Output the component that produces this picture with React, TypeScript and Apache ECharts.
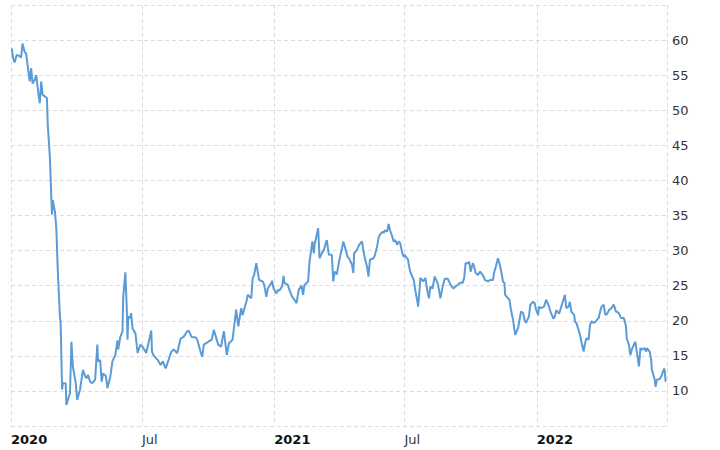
import React, { useEffect, useRef } from "react";
import * as echarts from "echarts";

const dates: string[] = [
  "2020-01-02","2020-01-04","2020-01-06","2020-01-09","2020-01-13","2020-01-15","2020-01-17","2020-01-20","2020-01-22","2020-01-25",
  "2020-01-27","2020-01-29","2020-01-31","2020-02-03","2020-02-05","2020-02-08","2020-02-10","2020-02-12","2020-02-14","2020-02-18",
  "2020-02-20","2020-02-21","2020-02-24","2020-02-26","2020-02-27","2020-02-28","2020-03-02","2020-03-04","2020-03-06","2020-03-09",
  "2020-03-10","2020-03-12","2020-03-13","2020-03-17","2020-03-18","2020-03-23","2020-03-25","2020-03-27","2020-03-31","2020-04-02",
  "2020-04-06","2020-04-10","2020-04-13","2020-04-15","2020-04-17","2020-04-20","2020-04-23","2020-04-27","2020-04-30","2020-05-01",
  "2020-05-04","2020-05-06","2020-05-08","2020-05-12","2020-05-14","2020-05-18","2020-05-21","2020-05-25","2020-05-28","2020-05-29",
  "2020-06-01","2020-06-04","2020-06-05","2020-06-08","2020-06-10","2020-06-11","2020-06-12","2020-06-15","2020-06-16","2020-06-18",
  "2020-06-22","2020-06-25","2020-06-29","2020-07-02","2020-07-07","2020-07-09","2020-07-14","2020-07-15","2020-07-17","2020-07-23",
  "2020-07-27","2020-07-30","2020-08-03","2020-08-07","2020-08-11","2020-08-14","2020-08-19","2020-08-24","2020-08-28","2020-09-02",
  "2020-09-04","2020-09-08","2020-09-14","2020-09-16","2020-09-21","2020-09-23","2020-09-25","2020-10-01","2020-10-06","2020-10-09",
  "2020-10-15","2020-10-19","2020-10-22","2020-10-23","2020-10-27","2020-10-30","2020-11-04","2020-11-09","2020-11-12","2020-11-16",
  "2020-11-18","2020-11-20","2020-11-24","2020-11-25","2020-11-30","2020-12-02","2020-12-04","2020-12-07","2020-12-09","2020-12-11",
  "2020-12-16","2020-12-18","2020-12-21","2020-12-23","2020-12-28","2020-12-29","2020-12-31","2021-01-04","2021-01-06","2021-01-08",
  "2021-01-12","2021-01-14","2021-01-15","2021-01-20","2021-01-22","2021-01-26","2021-01-29","2021-02-01","2021-02-04","2021-02-08",
  "2021-02-10","2021-02-12","2021-02-17","2021-02-19","2021-02-23","2021-02-25","2021-02-26","2021-03-03","2021-03-05","2021-03-08",
  "2021-03-11","2021-03-15","2021-03-18","2021-03-22","2021-03-24","2021-03-26","2021-03-29","2021-04-01","2021-04-05","2021-04-07",
  "2021-04-09","2021-04-13","2021-04-15","2021-04-19","2021-04-21","2021-04-22","2021-04-26","2021-04-29","2021-05-03","2021-05-05",
  "2021-05-07","2021-05-10","2021-05-12","2021-05-14","2021-05-19","2021-05-21","2021-05-24","2021-05-26","2021-05-28","2021-06-01",
  "2021-06-02","2021-06-04","2021-06-07","2021-06-09","2021-06-11","2021-06-14","2021-06-16","2021-06-18","2021-06-21","2021-06-23",
  "2021-06-25","2021-06-28","2021-06-30","2021-07-01","2021-07-06","2021-07-07","2021-07-09","2021-07-14","2021-07-16","2021-07-19",
  "2021-07-20","2021-07-22","2021-07-23","2021-07-27","2021-07-30","2021-08-02","2021-08-04","2021-08-06","2021-08-09","2021-08-12",
  "2021-08-16","2021-08-18","2021-08-20","2021-08-23","2021-08-26","2021-08-30","2021-09-01","2021-09-03","2021-09-07","2021-09-10",
  "2021-09-13","2021-09-16","2021-09-20","2021-09-22","2021-09-24","2021-09-27","2021-09-29","2021-10-01","2021-10-04","2021-10-06",
  "2021-10-08","2021-10-11","2021-10-14","2021-10-18","2021-10-21","2021-10-25","2021-10-28","2021-11-01","2021-11-03","2021-11-05",
  "2021-11-08","2021-11-10","2021-11-12","2021-11-15","2021-11-17","2021-11-18","2021-11-22","2021-11-24","2021-11-26","2021-11-29",
  "2021-12-02","2021-12-06","2021-12-08","2021-12-10","2021-12-13","2021-12-15","2021-12-17","2021-12-21","2021-12-23","2021-12-27",
  "2021-12-29","2021-12-31","2022-01-03","2022-01-04","2022-01-07","2022-01-11","2022-01-14","2022-01-18","2022-01-20","2022-01-24",
  "2022-01-26","2022-01-28","2022-02-01","2022-02-04","2022-02-09","2022-02-11","2022-02-14","2022-02-16","2022-02-18","2022-02-22",
  "2022-02-23","2022-02-25","2022-02-28","2022-03-02","2022-03-04","2022-03-07","2022-03-09","2022-03-11","2022-03-14","2022-03-16",
  "2022-03-18","2022-03-21","2022-03-24","2022-03-28","2022-03-30","2022-04-01","2022-04-04","2022-04-06","2022-04-08","2022-04-12",
  "2022-04-14","2022-04-18","2022-04-21","2022-04-22","2022-04-25","2022-04-28","2022-05-02","2022-05-05","2022-05-06","2022-05-09",
  "2022-05-11","2022-05-13","2022-05-16","2022-05-18","2022-05-20","2022-05-23","2022-05-25","2022-05-27","2022-05-31","2022-06-02",
  "2022-06-03","2022-06-07","2022-06-09","2022-06-10","2022-06-14","2022-06-15","2022-06-17","2022-06-21","2022-06-24","2022-06-27",
  "2022-06-28","2022-06-29"
];

const prices: number[] = [
  58.8,57.4,56.8,57.9,57.7,57.5,59.5,58.3,58.1,55.7,
  54.1,56.0,53.8,54.3,55.0,52.4,51.0,54.1,52.2,51.9,
  51.7,48.1,43.4,37.7,35.1,37.2,35.6,33.2,27.3,20.6,
  19.7,10.2,11.1,11.1,8.0,9.7,17.0,13.5,11.1,8.7,
  10.2,13.0,12.1,11.8,12.3,11.3,11.1,11.6,16.6,14.2,
  14.4,11.3,12.5,12.1,10.4,12.0,14.2,15.1,17.2,15.9,
  17.7,18.5,23.4,26.9,21.6,17.3,20.6,20.4,21.1,18.9,
  18.2,15.4,16.6,16.3,15.4,16.3,18.6,15.6,15.1,14.4,
  13.7,14.2,13.2,14.4,15.6,15.9,15.4,17.5,17.7,18.5,
  18.6,17.7,17.6,17.3,15.4,14.9,16.6,17.0,17.3,18.7,
  16.6,16.3,18.0,18.5,15.1,16.8,17.3,21.6,19.2,21.8,
  20.8,21.6,23.0,23.7,23.2,26.1,26.5,28.2,27.0,25.8,
  25.6,25.1,23.4,24.6,25.4,25.7,24.6,23.9,24.4,24.3,
  24.9,26.4,25.4,25.1,24.4,23.4,23.0,22.5,24.4,25.0,
  23.7,25.1,25.6,28.4,31.3,29.6,30.8,33.2,28.9,29.6,
  30.1,31.5,29.4,29.4,25.6,27.0,26.6,28.4,30.3,31.3,
  30.6,29.1,28.9,28.0,26.8,29.6,30.1,30.8,31.3,29.9,
  28.9,27.7,26.3,28.7,28.9,29.4,30.6,31.8,32.3,32.7,
  32.5,32.9,32.7,33.8,32.9,32.0,31.3,31.5,30.8,31.3,
  31.1,29.6,29.1,29.4,28.7,28.0,27.0,25.8,24.4,22.7,
  22.0,24.4,26.1,25.6,26.1,24.2,23.2,24.9,24.6,26.3,
  25.4,24.4,23.2,24.8,26.0,26.0,25.6,25.1,24.6,24.9,
  25.1,25.4,25.4,26.1,28.2,28.2,28.4,27.0,28.2,27.7,
  26.8,26.5,27.0,26.5,25.8,25.6,25.8,25.8,27.0,27.7,
  28.9,28.2,27.3,25.6,25.4,23.7,23.2,23.0,21.6,20.1,
  18.0,19.0,20.1,21.3,21.1,20.1,19.7,20.6,22.3,22.7,
  22.5,21.6,20.8,22.0,21.8,22.0,23.0,22.0,21.3,20.3,
  20.6,21.5,21.0,22.0,23.7,21.8,22.0,22.7,21.3,20.8,
  19.9,19.7,18.7,18.0,17.0,15.6,16.8,17.5,17.3,19.4,
  19.9,19.7,19.9,20.4,21.3,22.0,22.3,20.9,20.9,21.6,
  21.7,22.3,21.3,21.3,21.1,20.4,20.4,19.2,17.5,16.6,
  15.1,15.9,16.6,17.0,15.6,13.5,16.1,15.9,16.1,15.6,
  16.1,15.6,14.4,13.0,11.6,10.6,11.6,11.7,12.3,13.2,
  12.8,11.3
];

const xStart = "2020-01-01";
const xEnd = "2022-07-01";
const yMin = 5;
const yMax = 65;
const yStep = 5;

export default function App() {
  const ref = useRef<HTMLDivElement>(null);
  useEffect(() => {
    if (!ref.current) return;
    const chart = echarts.init(ref.current, undefined, { renderer: "svg" });
    const seriesData = dates.map((d, i) => [d, prices[i]]);
    const endTs = echarts.time.parse(xEnd).getTime();
    chart.setOption({
      animation: false,
      backgroundColor: "#ffffff",
      grid: { left: 11, right: 53, top: 5, bottom: 24, containLabel: false },
      xAxis: {
        type: "time",
        min: xStart,
        max: xEnd,
        splitNumber: 5,
        axisLine: { show: false },
        axisTick: { show: false },
        axisLabel: {
          show: true,
          align: "left",
          margin: 7,
          fontFamily: "DejaVu Sans",
          fontSize: 13,
          color: "#333",
          formatter: (val: number) => {
            if (val >= endTs) return "";
            const d = new Date(val);
            if (d.getMonth() === 0) return "{y|" + d.getFullYear() + "}";
            return "Jul";
          },
          rich: {
            y: { fontWeight: "bold", fontFamily: "DejaVu Sans", fontSize: 13, color: "#111" },
          },
        },
        splitLine: {
          show: true,
          lineStyle: { color: "#dcdcdc", type: [4, 3], width: 1 },
        },
      },
      yAxis: {
        type: "value",
        position: "right",
        min: yMin,
        max: yMax,
        interval: yStep,
        axisLine: { show: false },
        axisTick: { show: false },
        axisLabel: {
          margin: 5,
          fontFamily: "DejaVu Sans",
          fontSize: 13,
          color: "#333",
          showMinLabel: false,
          showMaxLabel: false,
        },
        splitLine: {
          show: true,
          lineStyle: { color: "#dcdcdc", type: [4, 3], width: 1 },
        },
      },
      series: [
        {
          type: "line",
          data: seriesData,
          showSymbol: false,
          symbol: "none",
          lineStyle: { color: "#5b9bd7", width: 2 },
          itemStyle: { color: "#5b9bd7" },
        },
      ],
    });
    return () => chart.dispose();
  }, []);
  return (
    <div
      ref={ref}
      style={{ position: "absolute", left: 0, top: 0, width: 720, height: 450 }}
    />
  );
}
